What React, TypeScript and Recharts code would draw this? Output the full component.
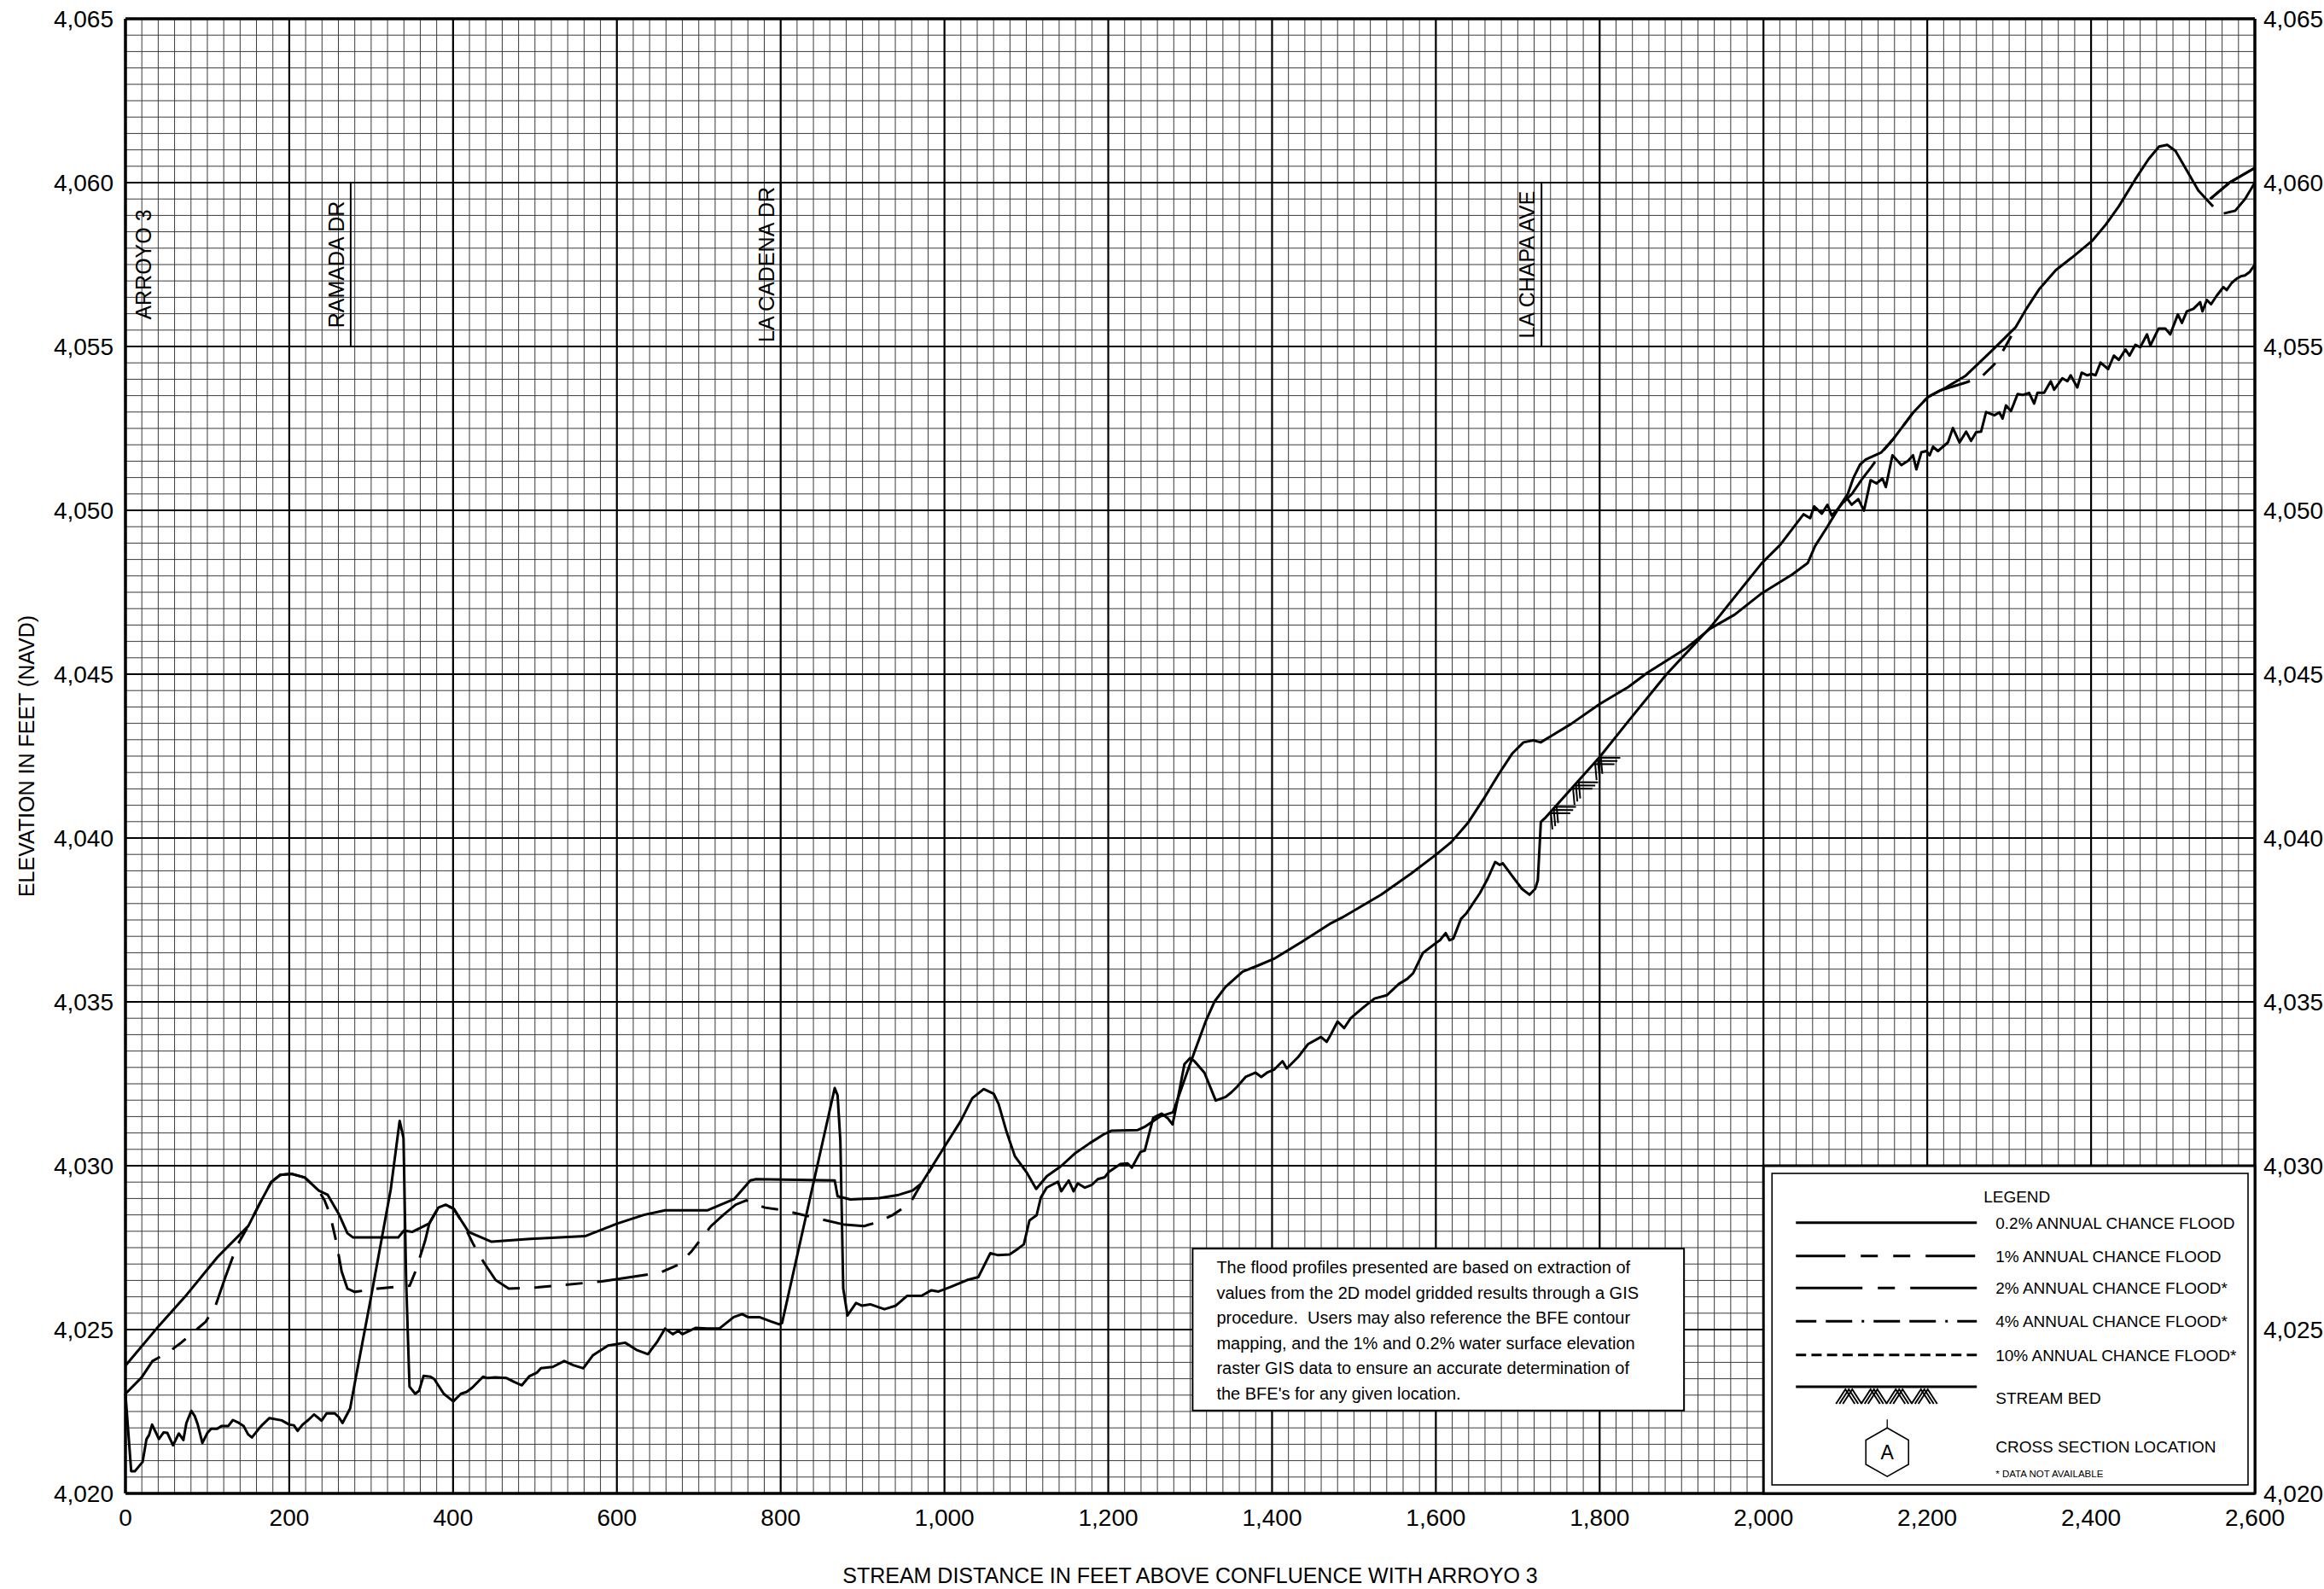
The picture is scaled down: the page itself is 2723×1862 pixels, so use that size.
import React from "react";
import {
  ComposedChart,
  Line,
  Scatter,
  XAxis,
  YAxis,
  CartesianGrid,
  ReferenceLine,
  ReferenceArea,
} from "recharts";

const FONT = "'Liberation Sans', Arial, Helvetica, sans-serif";

type Pt = { x: number; y: number | null };

// 0.2% annual chance flood profile
const flood02Main: Pt[] = [
  { x: 0, y: 4023.9 }, { x: 38, y: 4025.03 }, { x: 75, y: 4026.07 }, { x: 112, y: 4027.2 },
  { x: 150, y: 4028.16 }, { x: 164, y: 4028.85 }, { x: 178, y: 4029.5 }, { x: 189, y: 4029.72 },
  { x: 203, y: 4029.75 }, { x: 219, y: 4029.64 }, { x: 236, y: 4029.24 }, { x: 247, y: 4029.11 },
  { x: 261, y: 4028.5 }, { x: 271, y: 4027.94 }, { x: 278, y: 4027.81 }, { x: 333, y: 4027.81 },
  { x: 340, y: 4028.02 }, { x: 350, y: 4027.98 }, { x: 371, y: 4028.24 }, { x: 382, y: 4028.72 },
  { x: 391, y: 4028.81 }, { x: 401, y: 4028.68 }, { x: 419, y: 4027.98 }, { x: 447, y: 4027.68 },
  { x: 494, y: 4027.77 }, { x: 561, y: 4027.85 }, { x: 601, y: 4028.24 }, { x: 633, y: 4028.5 },
  { x: 659, y: 4028.64 }, { x: 711, y: 4028.64 }, { x: 743, y: 4028.98 }, { x: 763, y: 4029.55 },
  { x: 770, y: 4029.59 }, { x: 866, y: 4029.55 }, { x: 869.5, y: 4029.07 }, { x: 885, y: 4028.97 },
  { x: 920, y: 4029.01 }, { x: 944, y: 4029.11 }, { x: 961, y: 4029.24 }, { x: 972, y: 4029.46 },
  { x: 1000, y: 4030.58 }, { x: 1020, y: 4031.37 }, { x: 1034, y: 4032.06 }, { x: 1048, y: 4032.34 },
  { x: 1060, y: 4032.2 }, { x: 1066, y: 4031.89 }, { x: 1076, y: 4031.02 }, { x: 1086, y: 4030.29 },
  { x: 1100, y: 4029.81 }, { x: 1112, y: 4029.29 }, { x: 1125, y: 4029.68 }, { x: 1142, y: 4029.98 },
  { x: 1159, y: 4030.37 }, { x: 1177, y: 4030.68 }, { x: 1194, y: 4030.95 }, { x: 1204, y: 4031.07 },
  { x: 1236, y: 4031.09 }, { x: 1244, y: 4031.18 }, { x: 1263, y: 4031.5 }, { x: 1279, y: 4031.63 },
  { x: 1284, y: 4031.98 }, { x: 1295, y: 4032.76 }, { x: 1305, y: 4033.46 }, { x: 1319, y: 4034.41 },
  { x: 1330, y: 4035.02 }, { x: 1343, y: 4035.45 }, { x: 1364, y: 4035.92 }, { x: 1382, y: 4036.1 },
  { x: 1402, y: 4036.31 }, { x: 1437, y: 4036.84 }, { x: 1472, y: 4037.4 }, { x: 1486, y: 4037.58 },
  { x: 1533, y: 4038.27 }, { x: 1570, y: 4038.92 }, { x: 1600, y: 4039.49 }, { x: 1619, y: 4039.88 },
  { x: 1640, y: 4040.49 }, { x: 1658, y: 4041.18 }, { x: 1677, y: 4041.96 }, { x: 1693, y: 4042.57 },
  { x: 1707, y: 4042.92 }, { x: 1719, y: 4042.98 }, { x: 1728, y: 4042.92 }, { x: 1742, y: 4043.13 },
  { x: 1765, y: 4043.48 }, { x: 1800, y: 4044.09 }, { x: 1835, y: 4044.61 }, { x: 1858, y: 4045.04 },
  { x: 1905, y: 4045.78 }, { x: 1935, y: 4046.39 }, { x: 1965, y: 4046.82 }, { x: 1998, y: 4047.47 },
  { x: 2035, y: 4048.04 }, { x: 2054, y: 4048.39 }, { x: 2063, y: 4048.91 }, { x: 2078, y: 4049.5 },
  { x: 2093, y: 4050.12 }, { x: 2103, y: 4050.5 }, { x: 2110, y: 4051.0 }, { x: 2118, y: 4051.4 },
  { x: 2125, y: 4051.55 }, { x: 2144, y: 4051.77 }, { x: 2158, y: 4052.16 }, { x: 2183, y: 4052.99 },
  { x: 2201, y: 4053.46 }, { x: 2223, y: 4053.75 }, { x: 2247, y: 4054.11 }, { x: 2280, y: 4054.9 },
  { x: 2308, y: 4055.59 }, { x: 2320, y: 4056.11 }, { x: 2337, y: 4056.76 }, { x: 2357, y: 4057.33 },
  { x: 2377, y: 4057.72 }, { x: 2402, y: 4058.24 }, { x: 2418, y: 4058.72 }, { x: 2434, y: 4059.28 },
  { x: 2454, y: 4060.1 }, { x: 2470, y: 4060.71 }, { x: 2483, y: 4061.1 }, { x: 2493, y: 4061.15 },
  { x: 2503, y: 4060.97 }, { x: 2519, y: 4060.28 }, { x: 2531, y: 4059.76 }, { x: 2549, y: 4059.27 },
];

const flood02End: Pt[] = [
  { x: 2545.5, y: 4059.5 }, { x: 2569, y: 4060.0 }, { x: 2600, y: 4060.45 },
];

// 1% annual chance flood profile (null = break)
const flood1: Pt[] = [
  { x: 0, y: 4023.04 }, { x: 20, y: 4023.55 }, { x: 33, y: 4024.04 }, { x: 52, y: 4024.3 },
  { x: 68, y: 4024.6 }, { x: 82, y: 4024.9 }, { x: 98, y: 4025.24 }, { x: 110, y: 4025.73 },
  { x: 122, y: 4026.6 }, { x: 136, y: 4027.55 }, { x: 150, y: 4028.16 }, { x: 164, y: 4028.85 },
  { x: 178, y: 4029.5 }, { x: 189, y: 4029.72 }, { x: 203, y: 4029.75 }, { x: 219, y: 4029.64 },
  { x: 236, y: 4029.24 }, { x: 243, y: 4028.95 }, { x: 250, y: 4028.5 }, { x: 257, y: 4027.72 },
  { x: 264, y: 4026.77 }, { x: 271, y: 4026.25 }, { x: 280, y: 4026.15 }, { x: 308, y: 4026.25 },
  { x: 347, y: 4026.34 }, { x: 354, y: 4026.77 }, { x: 366, y: 4027.72 }, { x: 371, y: 4028.24 },
  { x: 382, y: 4028.72 }, { x: 391, y: 4028.81 }, { x: 401, y: 4028.68 }, { x: 413, y: 4028.2 },
  { x: 424, y: 4027.64 }, { x: 438, y: 4027.03 }, { x: 452, y: 4026.51 }, { x: 468, y: 4026.25 },
  { x: 503, y: 4026.29 }, { x: 582, y: 4026.47 }, { x: 652, y: 4026.73 }, { x: 675, y: 4026.98 },
  { x: 691, y: 4027.38 }, { x: 715, y: 4028.16 }, { x: 730, y: 4028.5 }, { x: 745, y: 4028.81 },
  { x: 758, y: 4028.94 }, { x: 781, y: 4028.72 }, { x: 802, y: 4028.65 }, { x: 840, y: 4028.42 },
  { x: 878, y: 4028.2 }, { x: 902, y: 4028.16 }, { x: 920, y: 4028.29 }, { x: 937, y: 4028.5 },
  { x: 958, y: 4028.85 }, { x: 972, y: 4029.46 }, { x: 986, y: 4030.0 },
  { x: 1500, y: null },
  { x: 2098, y: 4050.25 }, { x: 2108, y: 4050.5 }, { x: 2120, y: 4050.94 }, { x: 2132, y: 4051.33 },
  { x: 2144, y: 4051.75 }, { x: 2158, y: 4052.16 }, { x: 2183, y: 4052.99 }, { x: 2201, y: 4053.46 },
  { x: 2215, y: 4053.65 }, { x: 2247, y: 4053.9 }, { x: 2266, y: 4054.07 }, { x: 2282, y: 4054.46 },
  { x: 2292, y: 4054.85 }, { x: 2302, y: 4055.29 }, { x: 2310, y: 4055.7 },
  { x: 2450, y: null },
  { x: 2562, y: 4059.06 }, { x: 2576, y: 4059.14 }, { x: 2588, y: 4059.5 }, { x: 2600, y: 4060.0 },
];

// stream bed profile
const streamBed: Pt[] = [
  { x: 0, y: 4023.04 }, { x: 7, y: 4020.68 }, { x: 11.6, y: 4020.68 }, { x: 20.9, y: 4020.96 },
  { x: 25.6, y: 4021.65 }, { x: 28.8, y: 4021.78 }, { x: 32.5, y: 4022.1 }, { x: 40.9, y: 4021.66 },
  { x: 46.5, y: 4021.86 }, { x: 51, y: 4021.85 }, { x: 58.1, y: 4021.47 }, { x: 65.1, y: 4021.83 },
  { x: 70.7, y: 4021.63 }, { x: 74.4, y: 4022.15 }, { x: 80.4, y: 4022.52 }, { x: 84.6, y: 4022.36 },
  { x: 88.3, y: 4022.1 }, { x: 93.9, y: 4021.54 }, { x: 99.9, y: 4021.84 }, { x: 104.6, y: 4021.97 },
  { x: 111.6, y: 4021.97 }, { x: 117.6, y: 4022.06 }, { x: 125.6, y: 4022.06 }, { x: 131.2, y: 4022.24 },
  { x: 138.6, y: 4022.15 }, { x: 144.2, y: 4022.06 }, { x: 149.8, y: 4021.8 }, { x: 154.4, y: 4021.71 },
  { x: 162.8, y: 4021.97 }, { x: 167.4, y: 4022.1 }, { x: 175.8, y: 4022.3 }, { x: 190.7, y: 4022.23 },
  { x: 200, y: 4022.1 }, { x: 205.6, y: 4022.08 }, { x: 210.2, y: 4021.91 }, { x: 216.3, y: 4022.1 },
  { x: 223.2, y: 4022.24 }, { x: 230.2, y: 4022.41 }, { x: 239.5, y: 4022.22 }, { x: 245.5, y: 4022.44 },
  { x: 255.7, y: 4022.44 }, { x: 260.4, y: 4022.33 }, { x: 265, y: 4022.15 }, { x: 274.3, y: 4022.59 },
  { x: 281.3, y: 4023.54 }, { x: 298.5, y: 4025.81 }, { x: 324, y: 4029.29 }, { x: 334.8, y: 4031.37 },
  { x: 339.5, y: 4030.85 }, { x: 342.7, y: 4026.51 }, { x: 346.8, y: 4023.26 }, { x: 353.8, y: 4023.04 },
  { x: 358.5, y: 4023.13 }, { x: 364, y: 4023.59 }, { x: 372.4, y: 4023.56 }, { x: 377, y: 4023.49 },
  { x: 388.7, y: 4023.04 }, { x: 400.3, y: 4022.81 }, { x: 409.6, y: 4023.04 }, { x: 416.6, y: 4023.1 },
  { x: 423.5, y: 4023.23 }, { x: 436.6, y: 4023.56 }, { x: 442.1, y: 4023.52 }, { x: 451.4, y: 4023.54 },
  { x: 465.4, y: 4023.52 }, { x: 474.7, y: 4023.4 }, { x: 484, y: 4023.3 }, { x: 493.3, y: 4023.58 },
  { x: 502.6, y: 4023.69 }, { x: 507.3, y: 4023.82 }, { x: 516.6, y: 4023.85 }, { x: 521.8, y: 4023.86 },
  { x: 535.7, y: 4024.04 }, { x: 547.3, y: 4023.91 }, { x: 559, y: 4023.82 }, { x: 570.6, y: 4024.21 },
  { x: 589.2, y: 4024.51 }, { x: 610.1, y: 4024.6 }, { x: 624, y: 4024.38 }, { x: 638, y: 4024.25 },
  { x: 649.6, y: 4024.64 }, { x: 658.9, y: 4025.03 }, { x: 668.2, y: 4024.86 }, { x: 675.2, y: 4024.96 },
  { x: 680, y: 4024.86 }, { x: 696, y: 4025.05 }, { x: 710, y: 4025.03 }, { x: 725, y: 4025.03 },
  { x: 742.7, y: 4025.38 }, { x: 753.1, y: 4025.47 }, { x: 760, y: 4025.38 }, { x: 774, y: 4025.38 },
  { x: 787.8, y: 4025.25 }, { x: 798.3, y: 4025.16 }, { x: 801.7, y: 4025.2 }, { x: 866, y: 4032.37 },
  { x: 869.5, y: 4032.15 }, { x: 872.9, y: 4030.76 }, { x: 876.4, y: 4026.25 }, { x: 881.6, y: 4025.43 },
  { x: 892, y: 4025.81 }, { x: 899, y: 4025.73 }, { x: 909.4, y: 4025.77 }, { x: 926.7, y: 4025.62 },
  { x: 940.6, y: 4025.73 }, { x: 954.5, y: 4026.03 }, { x: 971.9, y: 4026.03 }, { x: 984, y: 4026.2 },
  { x: 992.7, y: 4026.16 }, { x: 1006.6, y: 4026.29 }, { x: 1027.4, y: 4026.51 }, { x: 1041.3, y: 4026.6 },
  { x: 1056, y: 4027.33 }, { x: 1065.6, y: 4027.27 }, { x: 1079.5, y: 4027.29 }, { x: 1089.9, y: 4027.47 },
  { x: 1096.9, y: 4027.6 }, { x: 1103.8, y: 4028.33 }, { x: 1112.5, y: 4028.49 }, { x: 1117.7, y: 4029.03 },
  { x: 1124.7, y: 4029.33 }, { x: 1131.6, y: 4029.42 }, { x: 1138.5, y: 4029.51 }, { x: 1142.7, y: 4029.22 },
  { x: 1151.7, y: 4029.55 }, { x: 1157.6, y: 4029.22 }, { x: 1162.8, y: 4029.46 }, { x: 1171.5, y: 4029.33 },
  { x: 1180.2, y: 4029.42 }, { x: 1187.2, y: 4029.59 }, { x: 1195.8, y: 4029.65 }, { x: 1201, y: 4029.82 },
  { x: 1214.9, y: 4030.05 }, { x: 1223.6, y: 4030.07 }, { x: 1228.8, y: 4029.94 }, { x: 1239.3, y: 4030.42 },
  { x: 1244.5, y: 4030.46 }, { x: 1254.9, y: 4031.46 }, { x: 1265.3, y: 4031.59 }, { x: 1272.2, y: 4031.46 },
  { x: 1278.5, y: 4031.26 }, { x: 1284.4, y: 4031.98 }, { x: 1293, y: 4033.1 }, { x: 1300, y: 4033.29 },
  { x: 1305.2, y: 4033.19 }, { x: 1317.4, y: 4032.84 }, { x: 1331.2, y: 4031.99 }, { x: 1343.4, y: 4032.1 },
  { x: 1350.3, y: 4032.24 }, { x: 1357.3, y: 4032.41 }, { x: 1367.7, y: 4032.71 }, { x: 1379.9, y: 4032.84 },
  { x: 1386.8, y: 4032.71 }, { x: 1393.8, y: 4032.84 }, { x: 1402.4, y: 4032.93 }, { x: 1412.8, y: 4033.19 },
  { x: 1418, y: 4032.97 }, { x: 1432, y: 4033.32 }, { x: 1444, y: 4033.71 }, { x: 1459.7, y: 4033.93 },
  { x: 1466.7, y: 4033.78 }, { x: 1471.9, y: 4034.01 }, { x: 1480, y: 4034.4 }, { x: 1488, y: 4034.2 },
  { x: 1496, y: 4034.5 }, { x: 1510, y: 4034.8 }, { x: 1525, y: 4035.1 }, { x: 1540, y: 4035.2 },
  { x: 1555, y: 4035.55 }, { x: 1565, y: 4035.7 }, { x: 1572.4, y: 4035.88 }, { x: 1584.1, y: 4036.49 },
  { x: 1600.3, y: 4036.8 }, { x: 1605, y: 4036.88 }, { x: 1612, y: 4037.1 }, { x: 1616.6, y: 4036.88 },
  { x: 1621.3, y: 4036.93 }, { x: 1630.6, y: 4037.53 }, { x: 1637.5, y: 4037.71 }, { x: 1653.8, y: 4038.32 },
  { x: 1663.1, y: 4038.75 }, { x: 1672.4, y: 4039.27 }, { x: 1678, y: 4039.18 }, { x: 1681.7, y: 4039.23 },
  { x: 1693.3, y: 4038.84 }, { x: 1705, y: 4038.45 }, { x: 1714.3, y: 4038.27 }, { x: 1721.3, y: 4038.45 },
  { x: 1724.5, y: 4038.71 }, { x: 1728.2, y: 4040.49 }, { x: 1733, y: 4040.6 }, { x: 1800.3, y: 4042.48 },
  { x: 1835.2, y: 4043.57 }, { x: 1881.7, y: 4045.0 }, { x: 1935.2, y: 4046.43 }, { x: 1998, y: 4048.39 },
  { x: 2020.5, y: 4048.95 }, { x: 2048.9, y: 4049.88 }, { x: 2057, y: 4049.76 }, { x: 2061.9, y: 4050.12 },
  { x: 2071.2, y: 4049.9 }, { x: 2078.1, y: 4050.17 }, { x: 2083.3, y: 4049.84 }, { x: 2093.5, y: 4050.12 },
  { x: 2101.6, y: 4050.38 }, { x: 2107.7, y: 4050.17 }, { x: 2115.8, y: 4050.34 }, { x: 2122.7, y: 4049.99 },
  { x: 2130.8, y: 4050.92 }, { x: 2138, y: 4050.82 }, { x: 2145.3, y: 4050.97 }, { x: 2149.4, y: 4050.71 },
  { x: 2157.5, y: 4051.68 }, { x: 2168.4, y: 4051.38 }, { x: 2176.5, y: 4051.51 }, { x: 2182.6, y: 4051.68 },
  { x: 2186.7, y: 4051.25 }, { x: 2192.8, y: 4051.77 }, { x: 2198.8, y: 4051.81 }, { x: 2202.9, y: 4051.68 },
  { x: 2207, y: 4051.94 }, { x: 2213, y: 4051.81 }, { x: 2225.2, y: 4052.07 }, { x: 2231.3, y: 4052.51 },
  { x: 2239.4, y: 4052.07 }, { x: 2247.5, y: 4052.4 }, { x: 2253.5, y: 4052.12 }, { x: 2259.6, y: 4052.38 },
  { x: 2265.7, y: 4052.4 }, { x: 2271.8, y: 4053.0 }, { x: 2281.9, y: 4052.9 }, { x: 2288, y: 4052.99 },
  { x: 2292, y: 4052.8 }, { x: 2296.1, y: 4053.2 }, { x: 2302.2, y: 4053.03 }, { x: 2310.3, y: 4053.55 },
  { x: 2316.3, y: 4053.52 }, { x: 2324.5, y: 4053.58 }, { x: 2330.5, y: 4053.26 }, { x: 2334.6, y: 4053.59 },
  { x: 2342.7, y: 4053.59 }, { x: 2350.8, y: 4053.94 }, { x: 2354.9, y: 4053.68 }, { x: 2365, y: 4054.03 },
  { x: 2371.1, y: 4053.94 }, { x: 2375.1, y: 4054.12 }, { x: 2383.2, y: 4053.75 }, { x: 2388.5, y: 4054.2 },
  { x: 2395.4, y: 4054.12 }, { x: 2400.6, y: 4054.16 }, { x: 2405.5, y: 4054.12 }, { x: 2411.6, y: 4054.51 },
  { x: 2420.9, y: 4054.31 }, { x: 2427.8, y: 4054.72 }, { x: 2433.9, y: 4054.59 }, { x: 2442, y: 4054.91 },
  { x: 2446.9, y: 4054.72 }, { x: 2454.1, y: 4055.05 }, { x: 2460.2, y: 4054.98 }, { x: 2468.3, y: 4055.37 },
  { x: 2472.4, y: 4055.03 }, { x: 2482.5, y: 4055.55 }, { x: 2490.6, y: 4055.55 }, { x: 2496.7, y: 4055.37 },
  { x: 2506, y: 4055.98 }, { x: 2510.9, y: 4055.72 }, { x: 2516.9, y: 4056.07 }, { x: 2525, y: 4056.15 },
  { x: 2533.2, y: 4056.35 }, { x: 2536, y: 4056.07 }, { x: 2541.3, y: 4056.42 }, { x: 2546.5, y: 4056.29 },
  { x: 2553.4, y: 4056.55 }, { x: 2561.5, y: 4056.81 }, { x: 2565.6, y: 4056.72 }, { x: 2571.7, y: 4056.94 },
  { x: 2577.7, y: 4057.07 }, { x: 2583.8, y: 4057.15 }, { x: 2587.9, y: 4057.17 }, { x: 2593.9, y: 4057.28 },
  { x: 2600, y: 4057.5 },
];

// stream bed hatch marks along the bed
const bedHatch: Pt[] = [
  { x: 1744, y: 4040.91 }, { x: 1771, y: 4041.66 }, { x: 1798, y: 4042.41 },
];

const roadNames = ["ARROYO 3", "RAMADA DR", "LA CADENA DR", "LA CHAPA AVE"];
const roadStations = [0, 275, 800, 1729];

const xTicks = [0, 200, 400, 600, 800, 1000, 1200, 1400, 1600, 1800, 2000, 2200, 2400, 2600];
const yTicks = [4020, 4025, 4030, 4035, 4040, 4045, 4050, 4055, 4060, 4065];

const legendLabels = [
  "0.2% ANNUAL CHANCE FLOOD",
  "1% ANNUAL CHANCE FLOOD",
  "2% ANNUAL CHANCE FLOOD*",
  "4% ANNUAL CHANCE FLOOD*",
  "10% ANNUAL CHANCE FLOOD*",
];

const noteLines = [
  "The flood profiles presented are based on extraction of",
  "values from the 2D model gridded results through a GIS",
  "procedure.  Users may also reference the BFE contour",
  "mapping, and the 1% and 0.2% water surface elevation",
  "raster GIS data to ensure an accurate determination of",
  "the BFE's for any given location.",
];

const minorX = Array.from({ length: 131 }, (_, i) => i * 20);
const minorY = Array.from({ length: 91 }, (_, i) => 4020 + i * 0.5);

const fmt = (v: number) => v.toLocaleString("en-US");

const DASH_1 = "60 17 20 17 20 17";
const legendDash = [undefined, "58 18 20 18 20 18", "78 18 20 18", "31 11 3 11 31 11", "12 6.2"];
const legendDashOffset = [0, 0, 0, 63, 0];

function Chevron({ x, y, angle, left, right, spread, width = 1.8 }: any) {
  return (
    <g transform={`translate(${x},${y}) rotate(${angle})`}>
      {[-spread, 0, spread].map((o: number) => (
        <polyline
          key={o}
          points={`${o + left[0]},${left[1]} ${o},0 ${o + right[0]},${right[1]}`}
          fill="none"
          stroke="#000"
          strokeWidth={width}
        />
      ))}
    </g>
  );
}

function RoadLabel(p: any) {
  const shift = p.payload.x === 0 ? 30 : -8;
  const tx = p.cx + shift;
  return (
    <text
      x={tx}
      y={p.cy}
      transform={`rotate(-90 ${tx} ${p.cy})`}
      textAnchor="middle"
      fontSize={25}
      fontFamily={FONT}
      fill="#000"
    >
      {p.payload.name}
    </text>
  );
}

function NoteBox(p: any) {
  const { x, y, width, height } = p;
  return (
    <g>
      <rect x={x} y={y} width={width} height={height} fill="#fff" stroke="#000" strokeWidth={2} />
      {noteLines.map((t, i) => (
        <text
          key={i}
          x={x + 28}
          y={y + 29 + i * 29.5}
          fontSize={20}
          fontFamily={FONT}
          fill="#000"
          style={{ whiteSpace: "pre" }}
        >
          {t}
        </text>
      ))}
    </g>
  );
}

function LegendBox(p: any) {
  const { x, y, width, height } = p;
  const rowY = [66.7, 105.7, 143.3, 182.3, 221.7];
  const lx1 = x + 38;
  const lx2 = x + 250;
  const tx = x + 272;
  const hx = x + 145;
  const hy = y + 335.7;
  const hex = [
    [0, -28.5], [25, -14.25], [25, 14.25], [0, 28.5], [-25, 14.25], [-25, -14.25],
  ]
    .map(([a, b]) => `${hx + a},${hy + b}`)
    .join(" ");
  return (
    <g fontFamily={FONT} fill="#000">
      <rect x={x} y={y} width={width} height={height} fill="#fff" stroke="#000" strokeWidth={3} />
      <rect x={x + 10} y={y + 9} width={width - 18} height={height - 19} fill="#fff" stroke="#000" strokeWidth={1.6} />
      <text x={x + 297} y={y + 43} textAnchor="middle" fontSize={19}>LEGEND</text>
      {legendLabels.map((t, i) => (
        <g key={t}>
          <line
            x1={lx1}
            x2={lx2}
            y1={y + rowY[i]}
            y2={y + rowY[i]}
            stroke="#000"
            strokeWidth={3}
            strokeDasharray={legendDash[i]}
            strokeDashoffset={legendDashOffset[i]}
          />
          <text x={tx} y={y + rowY[i] + 7} fontSize={19}>{t}</text>
        </g>
      ))}
      <line x1={lx1} x2={lx2} y1={y + 259} y2={y + 259} stroke="#000" strokeWidth={3} />
      {[0, 1, 2, 3].map((i) => (
        <Chevron
          key={i}
          x={x + 100 + i * 29.5}
          y={y + 262}
          angle={0}
          left={[-11, 17]}
          right={[11, 17]}
          spread={4}
          width={2}
        />
      ))}
      <text x={tx} y={y + 278.7} fontSize={19}>STREAM BED</text>
      <line x1={hx} x2={hx} y1={hy - 38.5} y2={hy - 28.5} stroke="#000" strokeWidth={1.3} />
      <polygon points={hex} fill="#fff" stroke="#000" strokeWidth={1.6} />
      <text x={hx} y={hy + 8} textAnchor="middle" fontSize={23}>A</text>
      <text x={tx} y={y + 336} fontSize={19}>CROSS SECTION LOCATION</text>
      <text x={tx} y={y + 364.7} fontSize={11.5}>* DATA NOT AVAILABLE</text>
    </g>
  );
}

const tickStyle = { fill: "#000", fontSize: 28, fontFamily: FONT };

export default function App() {
  const roadData = roadStations.map((x, i) => ({ x, y: 4057.5, name: roadNames[i] }));
  return (
    <div style={{ position: "absolute", left: 0, top: 0, width: 2723, height: 1862, background: "#fff" }}>
      <ComposedChart width={2723} height={1862} margin={{ top: 22, right: 0, bottom: 0, left: 0 }}>
        <CartesianGrid stroke="#3a3a3a" strokeWidth={1} horizontalValues={minorY} verticalValues={minorX} />
        <CartesianGrid stroke="#000" strokeWidth={2.2} horizontalValues={yTicks} verticalValues={xTicks} />
        <CartesianGrid stroke="#000" strokeWidth={3.5} horizontalValues={[4020, 4065]} verticalValues={[0, 2600]} />
        <XAxis
          type="number"
          dataKey="x"
          domain={[0, 2600]}
          ticks={xTicks}
          interval={0}
          tickFormatter={fmt}
          tick={tickStyle}
          tickLine={false}
          axisLine={false}
          tickSize={0}
          tickMargin={18}
          height={112}
          label={{
            value: "STREAM DISTANCE IN FEET ABOVE CONFLUENCE WITH ARROYO 3",
            position: "insideBottom",
            offset: 7,
            fill: "#000",
            fontSize: 25,
            fontFamily: FONT,
          }}
        />
        <YAxis
          type="number"
          dataKey="y"
          domain={[4020, 4065]}
          ticks={yTicks}
          interval={0}
          tickFormatter={fmt}
          tick={tickStyle}
          tickLine={false}
          axisLine={false}
          tickSize={0}
          tickMargin={14}
          width={147}
          label={{
            value: "ELEVATION IN FEET (NAVD)",
            angle: -90,
            position: "insideLeft",
            offset: 31,
            fill: "#000",
            fontSize: 25,
            fontFamily: FONT,
            style: { textAnchor: "middle" },
          }}
        />
        <YAxis
          yAxisId="right"
          orientation="right"
          type="number"
          dataKey="y"
          domain={[4020, 4065]}
          ticks={yTicks}
          interval={0}
          tickFormatter={fmt}
          tick={{ ...tickStyle, textAnchor: "start" }}
          tickLine={false}
          axisLine={false}
          tickSize={0}
          tickMargin={10}
          width={81}
        />
        <ReferenceArea x1={1303} x2={1903} y1={4022.53} y2={4027.47} shape={(p: any) => <NoteBox {...p} />} />
        <ReferenceArea x1={2000} x2={2600} y1={4020} y2={4030} shape={(p: any) => <LegendBox {...p} />} />
        {roadStations.map((s) => (
          <ReferenceLine
            key={s}
            segment={[{ x: s, y: 4055 }, { x: s, y: 4060 }]}
            stroke="#000"
            strokeWidth={2}
          />
        ))}
        <Line
          data={streamBed}
          dataKey="y"
          type="linear"
          stroke="#000"
          strokeWidth={3}
          dot={false}
          activeDot={false}
          isAnimationActive={false}
          strokeLinejoin="round"
        />
        <Line
          data={flood1}
          dataKey="y"
          type="linear"
          stroke="#000"
          strokeWidth={3}
          strokeDasharray={DASH_1}
          dot={false}
          activeDot={false}
          connectNulls={false}
          isAnimationActive={false}
        />
        <Line
          data={flood02Main}
          dataKey="y"
          type="linear"
          stroke="#000"
          strokeWidth={3}
          dot={false}
          activeDot={false}
          isAnimationActive={false}
          strokeLinejoin="round"
        />
        <Line
          data={flood02End}
          dataKey="y"
          type="linear"
          stroke="#000"
          strokeWidth={3}
          dot={false}
          activeDot={false}
          isAnimationActive={false}
        />
        {/* same profile end, tied to the right-hand axis so that it gets its ticks */}
        <Line
          yAxisId="right"
          data={flood02End}
          dataKey="y"
          type="linear"
          stroke="#000"
          strokeWidth={3}
          dot={false}
          activeDot={false}
          isAnimationActive={false}
        />
        <Scatter
          data={bedHatch}
          dataKey="y"
          isAnimationActive={false}
          shape={(p: any) => (
            <Chevron x={p.cx} y={p.cy + 2} angle={-48} left={[-13, 14]} right={[15, 17]} spread={5} width={2} />
          )}
        />
        <Scatter
          data={roadData}
          dataKey="y"
          isAnimationActive={false}
          shape={(p: any) => <RoadLabel {...p} />}
        />
      </ComposedChart>
    </div>
  );
}
